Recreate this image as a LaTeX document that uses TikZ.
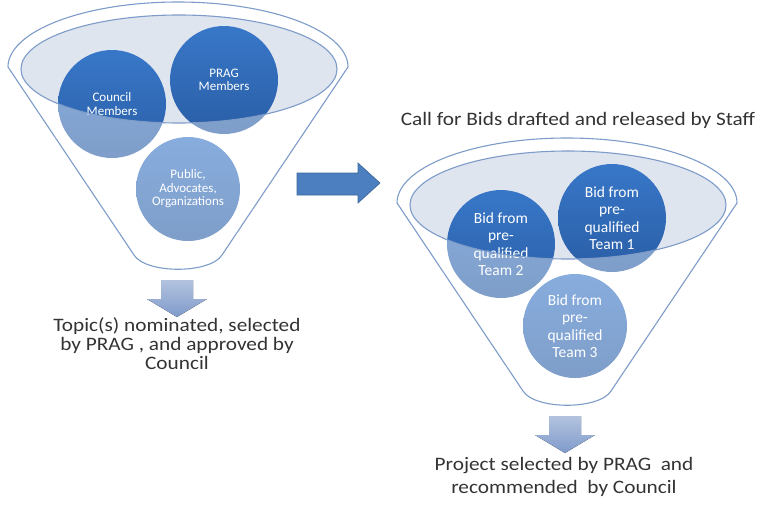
\documentclass[tikz,border=0pt]{standalone}
\usepackage{fontspec}
\setmainfont{Carlito}
\newfontfamily\capfont[FakeStretch=1.12]{Carlito}
\definecolor{lineblue}{HTML}{7E9CC9}
\definecolor{rimfill}{HTML}{DFE5EF}
\definecolor{bubtop}{HTML}{3877C8}
\definecolor{bubbot}{HTML}{2A5EA6}
\definecolor{arrtop}{HTML}{B3C3DF}
\definecolor{arrbot}{HTML}{7F9ACA}
\definecolor{rightblue}{HTML}{4B7FC0}
\definecolor{captext}{HTML}{333333}
\begin{document}
\begin{tikzpicture}[x=1pt, y=-1pt,
        funnelline/.style={draw=lineblue, line width=1.1pt},
        bubble/.style={circle, inner sep=0pt, align=center, text=white, top color=bubtop, bottom color=bubbot},
        smalltxt/.style={font=\fontsize{13}{13.5}\selectfont},
        teamtxt/.style={font=\fontsize{15.5}{17.5}\selectfont},
        caption/.style={align=center, text=captext, font=\capfont\fontsize{19}{19}\selectfont},
        downarrow/.style={top color=arrtop, bottom color=arrbot}]
    \useasboundingbox (0,0) rectangle (762,506);

    \foreach \fx/\fy in {178/1, 567/137} {
        \fill[rimfill] (\fx+1,\fy+68) ellipse [x radius=158, y radius=54];
    }

    \node[bubble, smalltxt, minimum size=108] (council) at (112,104) {Council\\Members};
    \node[bubble, smalltxt, minimum size=108] (prag) at (224,80) {PRAG\\Members};
    \node[bubble, smalltxt, minimum size=104] (public) at (188,189) {Public,\\Advocates,\\Organizations};

    \node[bubble, teamtxt, minimum size=108] (team2) at (501,244) {Bid from\\pre-\\qualified\\Team 2};
    \node[bubble, teamtxt, minimum size=108] (team1) at (612,218) {Bid from\\pre-\\qualified\\Team 1};
    \node[bubble, teamtxt, minimum size=104] (team3) at (575,326) {Bid from\\pre-\\qualified\\Team 3};

    \foreach \fx/\fy in {178/1, 567/137} {
        \fill[white, opacity=0.4, even odd rule] (\fx-170,\fy+66) arc [start angle=180, end angle=360, x radius=170, y radius=65]
            -- (\fx+44,\fy+254) .. controls (\fx+32,\fy+273) and (\fx-32,\fy+273) .. (\fx-44,\fy+254) -- cycle
            (\fx+1,\fy+68) ellipse [x radius=158, y radius=54];
        \draw[funnelline] (\fx-170,\fy+66) arc [start angle=180, end angle=360, x radius=170, y radius=65]
            -- (\fx+44,\fy+254) .. controls (\fx+32,\fy+273) and (\fx-32,\fy+273) .. (\fx-44,\fy+254) -- cycle;
        \draw[funnelline] (\fx+1,\fy+68) ellipse [x radius=158, y radius=54];
    }

    \foreach \ax/\ay in {177/280, 565/416} {
        \fill[downarrow] (\ax-16,\ay) -- ++(32,0) -- ++(0,19) -- ++(14,0) -- (\ax,\ay+37) -- (\ax-30,\ay+19) -- ++(14,0) -- cycle;
    }

    \filldraw[fill=rightblue, draw=rightblue!80!black, line width=0.6pt]
        (297,173) -- (358,173) -- (358,163) -- (380,183) -- (358,203) -- (358,195) -- (297,195) -- cycle;

    \node[caption] (topic) at (177,344) {Topic(s) nominated, selected\\by PRAG , and approved by\\Council};
    \node[caption] (callbids) at (578,120) {Call for Bids drafted and released by Staff};
    \node[caption, font=\capfont\fontsize{19}{23}\selectfont] (project) at (564,477) {Project selected by PRAG\ \ and\\recommended\ \ by Council};
\end{tikzpicture}
\end{document}
